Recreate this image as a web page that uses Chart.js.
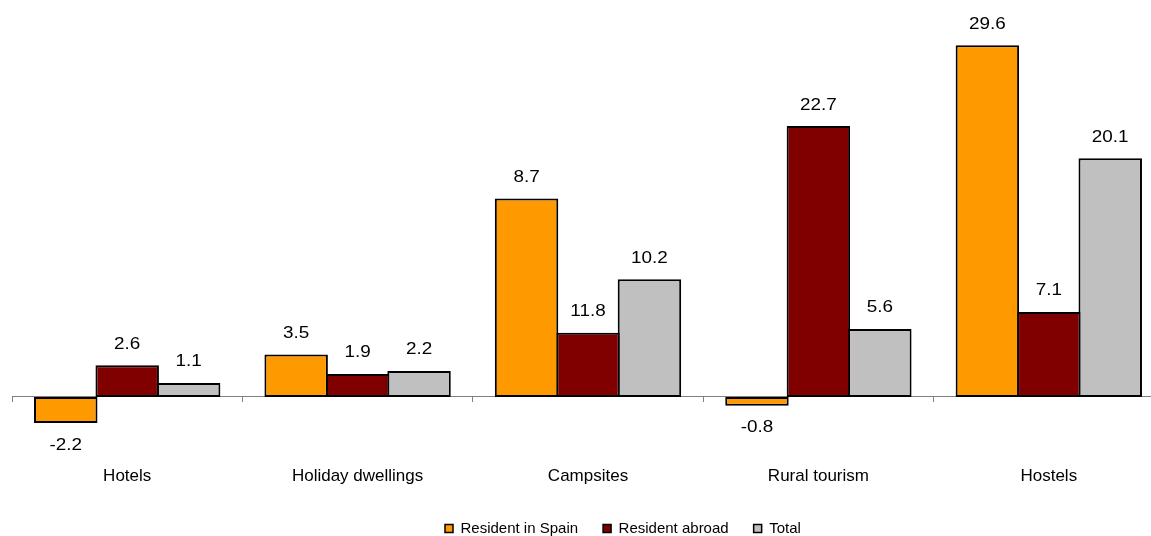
<!DOCTYPE html>
<html>
<head>
<meta charset="utf-8">
<script src="https://cdn.jsdelivr.net/npm/chart.js@4/dist/chart.umd.min.js"></script>
<style>
html,body{margin:0;padding:0;background:#fff;overflow:hidden;}
#wrap{position:relative;width:1180px;height:536px;}
</style>
</head>
<body>
<div id="wrap"><canvas id="c"></canvas></div>
<script>
const categories = ['Hotels', 'Holiday dwellings', 'Campsites', 'Rural tourism', 'Hostels'];
const seriesNames = ['Resident in Spain', 'Resident abroad', 'Total'];

// bar heights as drawn in the picture
const residentSpain = [-2.2, 3.57, 16.7, -0.73, 29.6];
const residentAbroad = [2.67, 1.94, 5.4, 22.8, 7.16];
const total = [1.18, 2.19, 9.9, 5.72, 20.1];

// value labels as printed in the picture
const residentSpainLabels = ['-2.2', '3.5', '8.7', '-0.8', '29.6'];
const residentAbroadLabels = ['2.6', '1.9', '11.8', '22.7', '7.1'];
const totalLabels = ['1.1', '2.2', '10.2', '5.6', '20.1'];

const FONT = '"Liberation Sans", Arial, Helvetica, sans-serif';
const labelArrays = [residentSpainLabels, residentAbroadLabels, totalLabels];

const barLabels = {
  id: 'barLabels',
  afterDatasetsDraw(chart) {
    const ctx = chart.ctx;
    ctx.save();
    ctx.font = '16px ' + FONT;
    ctx.fillStyle = '#000';
    ctx.textAlign = 'center';
    ctx.textBaseline = 'middle';
    chart.data.datasets.forEach((ds, i) => {
      const meta = chart.getDatasetMeta(i);
      meta.data.forEach((el, j) => {
        const v = ds.data[j];
        const y = v >= 0 ? el.y - 21 : el.y + 22;
        ctx.save();
        ctx.translate(el.x, y);
        ctx.scale(1.18, 1);
        ctx.fillText(labelArrays[i][j], 0, 0);
        ctx.restore();
      });
    });
    ctx.restore();
  }
};

const legendLeft = 420;
const legendPlace = {
  id: 'legendPlace',
  afterLayout(chart) {
    const lg = chart.legend;
    if (!lg) return;
    const shift = legendLeft - lg.left;
    lg.left += shift;
    lg.right += shift;
  }
};

new Chart(document.getElementById('c'), {
  type: 'bar',
  data: {
    labels: categories,
    datasets: [
      { label: seriesNames[0], data: residentSpain, backgroundColor: '#FF9900' },
      { label: seriesNames[1], data: residentAbroad, backgroundColor: '#800000' },
      { label: seriesNames[2], data: total, backgroundColor: '#C0C0C0' }
    ].map(d => Object.assign(d, {
      borderColor: '#000',
      borderWidth: 2,
      borderSkipped: false,
      categoryPercentage: 0.8,
      barPercentage: 1.033
    }))
  },
  options: {
    responsive: true,
    maintainAspectRatio: false,
    animation: false,
    layout: { padding: { top: 16.8, left: 12, right: 16, bottom: 0 } },
    plugins: {
      tooltip: { enabled: false },
      legend: {
        position: 'bottom',
        align: 'start',
        maxHeight: 40,
        labels: {
          color: '#000',
          font: { size: 15, family: FONT },
          boxWidth: 8,
          boxHeight: 8,
          padding: 25,
          generateLabels(chart) {
            const items = Chart.defaults.plugins.legend.labels.generateLabels(chart);
            items.forEach(it => { it.lineWidth = 1.5; it.strokeStyle = '#000'; });
            return items;
          }
        }
      }
    },
    scales: {
      x: {
        position: { y: 0 },
        grid: { offset: true, drawOnChartArea: false, tickLength: 5, color: '#808080', lineWidth: 1 },
        border: { color: '#808080', width: 1 },
        ticks: { display: false }
      },
      x2: {
        type: 'category',
        position: 'bottom',
        grid: { display: false, drawTicks: false },
        border: { display: false },
        ticks: { color: '#000', font: { size: 17, family: FONT }, padding: 3.5, maxRotation: 0, autoSkip: false },
        afterFit(s) { s.height = 33.7; }
      },
      y: { display: false, min: -5.5, max: 32 }
    }
  },
  plugins: [barLabels, legendPlace]
});
</script>
</body>
</html>
